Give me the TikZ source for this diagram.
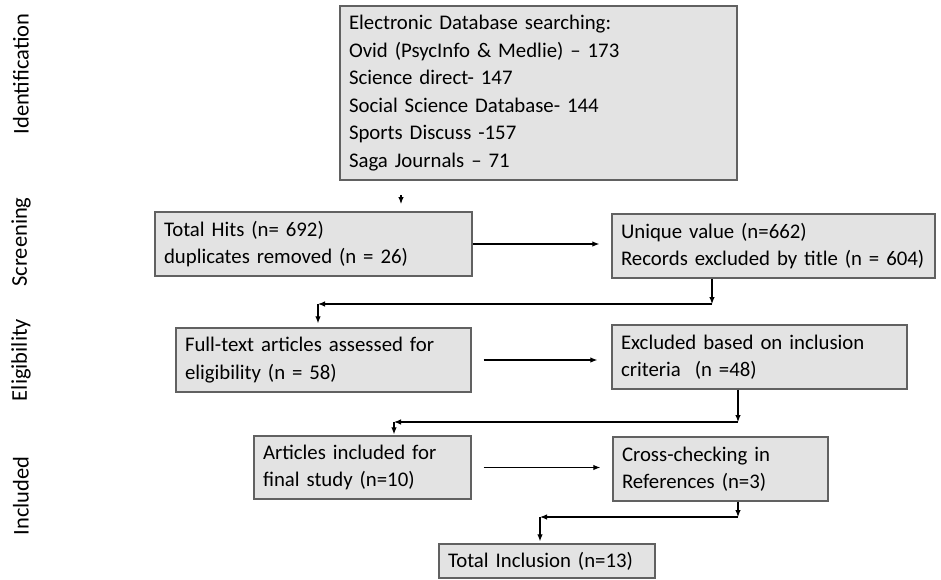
\documentclass[tikz,border=0pt]{standalone}
\usepackage{fontspec}
\setmainfont{Carlito}
\usetikzlibrary{calc}
\usetikzlibrary{positioning}
\usetikzlibrary{arrows.meta}
\newcommand{\boxFill}{black!11}
\newcommand{\boxEdge}{black!62}
\newcommand{\linkColor}{black}
\newcommand{\drawStage}[6]{
	\node[stage, minimum width=#4pt, minimum height=#5pt, text width=#4pt-18pt] (#1) at (#2,#3) {#6};
}
\tikzset{stage/.style = {draw=\boxEdge, fill=\boxFill, line width=1.4pt, align=left, inner xsep=9pt, inner ysep=0pt, font=\fontsize{20.8}{27.5}\selectfont}}
\tikzset{link/.style = {\linkColor, line width=1.1pt, -{Latex[length=7pt,width=5.5pt]}}}
\tikzset{phase/.style = {rotate=90, font=\fontsize{22.5}{26}\selectfont}}

\begin{document}
\begin{tikzpicture}[x=1pt, y=-1pt]
    \useasboundingbox (0,0) rectangle (941,579);

    \foreach \name/\y in {Identification/74, Screening/242, Eligibility/360, Included/496}
    {
        \node[phase] (\name) at (21,\y) {\name};
    }

    \drawStage{elec}{538.5}{93}{397}{174}{Electronic Database searching:\\
        Ovid (PsycInfo \& Medlie) -- 173\\
        Science direct- 147\\
        Social Science Database- 144\\
        Sports Discuss -157\\
        Saga Journals -- 71}
    \drawStage{hits}{313.5}{244}{317}{64}{Total Hits (n= 692)\\duplicates removed (n = 26)}
    \drawStage{uniq}{773.5}{246}{323}{64}{Unique value (n=662)\\Records excluded by title (n = 604)}
    \drawStage{full}{323.5}{360}{295}{64}{Full-text articles assessed for\\eligibility (n = 58)}
    \drawStage{excl}{759.5}{357}{295}{64}{Excluded based on inclusion\\criteria\ \ (n =48)}
    \drawStage{art}{362.5}{467.5}{217}{63}{Articles included for\\final study (n=10)}
    \drawStage{cross}{720.5}{469}{215}{64}{Cross-checking in\\References (n=3)}
    \drawStage{total}{547}{561}{216}{34}{Total Inclusion (n=13)}

    % joints of the connectors
    \coordinate (e1) at (401,195);
    \coordinate (e2) at (401,204);
    \coordinate (u1) at (712,304);
    \coordinate (u2) at (318,304);
    \coordinate (x1) at (738,422);
    \coordinate (x2) at (394,422);
    \coordinate (c1) at (738,517);
    \coordinate (c2) at (540,517);

    \draw[link] (e1) -- (e2);
    \draw[link, shorten >=12pt] (hits.east) -- (hits.east -| uniq.west);

    \draw[link] (u1 |- uniq.south) -- (u1);
    \draw[link] (u1) -- (u2);
    \draw[link, shorten >=4pt] (u2) -- (u2 |- full.north);

    \draw[link, shorten <=12pt, shorten >=14pt] (full.east) -- (full.east -| excl.west);

    \draw[link] (x1 |- excl.south) -- (x1);
    \draw[link] (x1) -- (x2);
    \draw[link, shorten >=1pt] (x2) -- (x2 |- art.north);

    \draw[link, shorten <=12pt, shorten >=12pt] (art.east) -- (art.east -| cross.west);

    \draw[link] (c1 |- cross.south) -- (c1);
    \draw[link] (c1) -- (c2);
    \draw[link, shorten >=2pt] (c2) -- (c2 |- total.north);
\end{tikzpicture}
\end{document}
